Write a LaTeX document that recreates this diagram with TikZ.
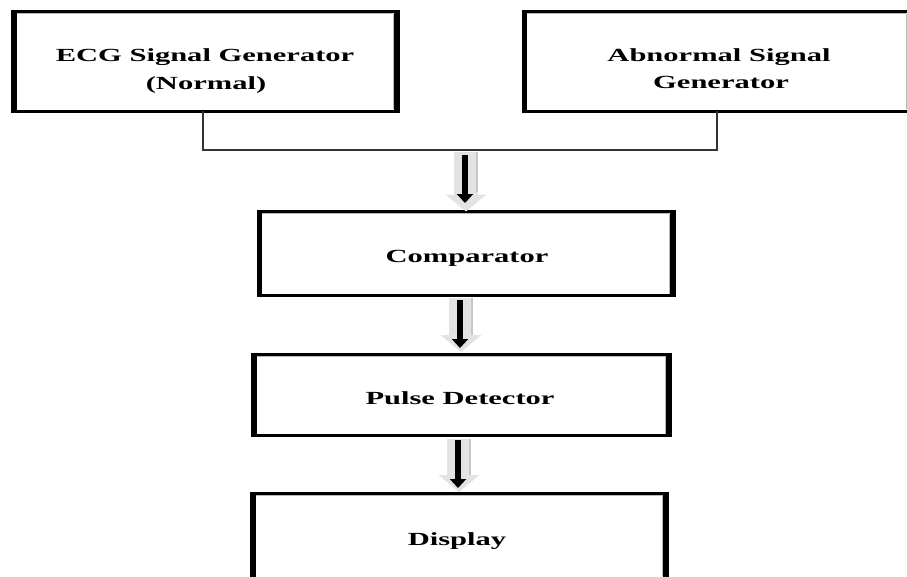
\documentclass[tikz,border=0pt]{standalone}
\usepackage{fontspec}
\setmainfont{Liberation Serif}
\newfontfamily\boxfont[FakeStretch=1.65]{Liberation Serif}
\usetikzlibrary{arrows.meta}
\begin{document}
\begin{tikzpicture}[x=1pt,y=-1pt,
  blockbox/.style={draw=black, line width=3pt, inner sep=0pt, outer sep=0pt, rectangle},
  sideline/.style={line width=5.5pt, black, line cap=butt},
  shadeline/.style={line width=0.9pt, gray!55},
  lbl/.style={anchor=base, inner sep=0pt, font=\boxfont\bfseries\fontsize{18.5}{28}\selectfont},
  joinline/.style={line width=1.2pt, black!80},
  greyarrow/.style={line width=24pt, gray!22, -{Triangle[length=17pt,width=40pt]}},
  greyedge/.style={line width=1.2pt, gray!45},
  blackarrow/.style={line width=6pt, black, -{Triangle[length=9pt,width=16pt]}}
]
\useasboundingbox (0,0) rectangle (907,576);
\clip (0,0) rectangle (907,576);
\fill[white] (0,0) rectangle (907,576);

% boxes
\node[blockbox, minimum width=383pt, minimum height=99.5pt] (ecg) at (205.5,61.25) {};
\node[blockbox, minimum width=385.5pt, minimum height=99.5pt] (abn) at (717,61.25) {};
\node[blockbox, minimum width=413.5pt, minimum height=84pt] (comp) at (466.25,253.5) {};
\node[blockbox, minimum width=415pt, minimum height=81.5pt] (pulse) at (461.5,394.75) {};
\node[blockbox, minimum width=413pt, minimum height=85pt] (disp) at (459.5,535.5) {};

% thick sides and inner shading
\foreach \b in {ecg,abn,comp,pulse,disp}{
  \draw[shadeline] ([xshift=-3.8pt,yshift=-2pt]\b.north east) -- ([xshift=-3.8pt,yshift=2pt]\b.south east);
  \draw[shadeline] ([xshift=2pt,yshift=-2pt]\b.north west) -- ([xshift=-4pt,yshift=-2pt]\b.north east);
  \draw[sideline] ([yshift=1.5pt]\b.north west) -- ([yshift=-1.5pt]\b.south west);
  \draw[sideline] ([yshift=1.5pt]\b.north east) -- ([yshift=-1.5pt]\b.south east);
}

% texts
\node[lbl] (ecgt1) at (205,61) {ECG Signal Generator};
\node[lbl] (ecgt2) at (206,89) {(Normal)};
\node[lbl] (abnt1) at (719,61) {Abnormal Signal};
\node[lbl] (abnt2) at (721,88) {Generator};
\node[lbl] (compt) at (467,262) {Comparator};
\node[lbl] (pulset) at (460,404) {Pulse Detector};
\node[lbl] (dispt) at (457,545) {Display};

% joining line
\coordinate (j1) at (203,150);
\coordinate (j2) at (717,150);
\draw[joinline] (ecg.south -| j1) -- (j1) -- (j2) -- (abn.south -| j2);

% arrows
\coordinate (g1s) at (466,152);
\coordinate (g1e) at (466,210);
\coordinate (k1s) at (465,155);
\coordinate (k1e) at (465,203);
\draw[greyarrow] (g1s) -- (comp.north -| g1e);
\draw[greyedge] ([xshift=11pt]g1s) -- ++(0,40);
\draw[blackarrow] (k1s) -- (k1e);

\coordinate (g2s) at (461,298);
\coordinate (g2e) at (461,352);
\coordinate (k2s) at (460,300);
\coordinate (k2e) at (460,348);
\draw[greyarrow] (g2s) -- (g2e);
\draw[greyedge] ([xshift=11pt]g2s) -- ++(0,37);
\draw[blackarrow] (k2s) -- (k2e);

\coordinate (g3s) at (459,439);
\coordinate (g3e) at (459,492);
\coordinate (k3s) at (458,440);
\coordinate (k3e) at (458,488);
\draw[greyarrow] (g3s) -- (g3e);
\draw[greyedge] ([xshift=11pt]g3s) -- ++(0,36);
\draw[blackarrow] (k3s) -- (k3e);
\end{tikzpicture}
\end{document}
